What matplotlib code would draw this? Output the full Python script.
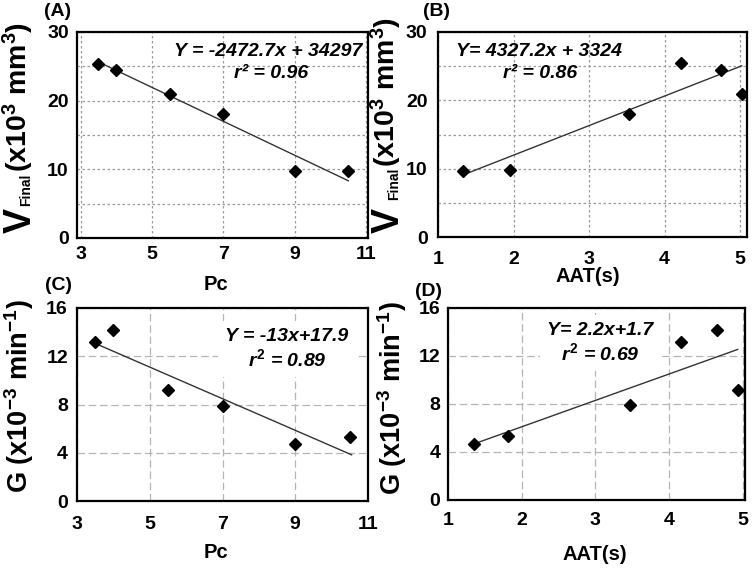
import matplotlib
matplotlib.use('Agg')
import matplotlib.pyplot as plt
from matplotlib.transforms import IdentityTransform
import numpy as np

plt.rcParams['font.family'] = ['Liberation Sans', 'DejaVu Sans']
plt.rcParams['font.weight'] = 'bold'
plt.rcParams['mathtext.fontset'] = 'custom'
plt.rcParams['mathtext.rm'] = 'Liberation Sans:bold'
plt.rcParams['mathtext.it'] = 'Liberation Sans:italic:bold'
plt.rcParams['mathtext.bf'] = 'Liberation Sans:bold'
plt.rcParams['mathtext.sf'] = 'Liberation Sans:bold'

# ---------------- data ----------------
pc_values = [3.5, 4.0, 5.5, 7.0, 9.0, 10.5]
v_final_a = [25.4, 24.5, 21.0, 18.0, 9.7, 9.7]          # x10^3 mm^3
aat_b = [4.21, 4.74, 5.02, 3.53, 1.33, 1.95]
v_final_b = [25.4, 24.5, 21.0, 18.0, 9.7, 9.8]
g_values = [13.2, 14.2, 9.2, 7.9, 4.7, 5.3]             # x10^-3 min^-1
aat_d = [4.16, 4.65, 4.93, 3.47, 1.35, 1.81]

fit_a = (-2.4727, 34.297); fit_a_range = [3.5, 10.5]
fit_b = (4.3272, 3.324);   fit_b_range = [1.40, 5.02]
fit_c = (-1.31, 17.65);    fit_c_range = [3.5, 10.55]
fit_d = (2.2, 1.7);        fit_d_range = [1.37, 4.93]

eq_a = ["Y = -2472.7x + 34297", "r\u00b2 = 0.96"]
eq_b = ["Y= 4327.2x + 3324", "r\u00b2 = 0.86"]
eq_c = ["Y = -13x+17.9", r"$r^2$ = 0.89"]
eq_d = ["Y= 2.2x+1.7", r"$r^2$ = 0.69"]

pc_ticks = [3, 5, 7, 9, 11]
aat_ticks = [1, 2, 3, 4, 5]
v_ticks = [0, 10, 20, 30]
v_minor = [5, 15, 25]
g_ticks = [0, 4, 8, 12, 16]

W, H = 755, 569
fig = plt.figure(figsize=(W / 100, H / 100), dpi=100)
ID = IdentityTransform()


def rect(l, t, r, b):
    return [l / W, (H - b) / H, (r - l) / W, (b - t) / H]


def ftext(x, y, s, **kw):
    return fig.text(x, H - y, s, transform=ID, **kw)


def style_axes(ax, xlim, ylim, xt, yt, ymin, grid_ls, grid_color, xpad, ypad):
    ax.set_xlim(*xlim)
    ax.set_ylim(*ylim)
    ax.set_xticks(xt)
    ax.set_yticks(yt)
    if ymin:
        ax.set_yticks(ymin, minor=True)
    ax.tick_params(axis='both', which='both', length=0, labelsize=14)
    ax.tick_params(axis='x', pad=xpad)
    ax.tick_params(axis='y', pad=ypad)
    for lab in ax.get_xticklabels() + ax.get_yticklabels():
        lab.set_fontweight('bold')
    ax.grid(True, which='both', color=grid_color, linestyle=grid_ls, linewidth=0.9)
    ax.set_axisbelow(True)
    for sp in ax.spines.values():
        sp.set_linewidth(1.6)
        sp.set_color('black')


def scatter_fit(ax, x, y, fit, frange):
    fx = np.array(frange)
    ax.plot(fx, fit[0] * fx + fit[1], color='#333333', linewidth=1.0, zorder=3)
    ax.plot(x, y, linestyle='none', marker='D', markersize=6.3,
            color='black', zorder=4)


# ---------------- Panel A ----------------
axA = fig.add_axes(rect(77, 32, 368, 238))
style_axes(axA, (2.9, 11.05), (0, 30), pc_ticks, v_ticks, v_minor,
           (0, (2, 2)), '#9a9a9a', 5.5, 6)
scatter_fit(axA, pc_values, v_final_a, fit_a, fit_a_range)
ftext(362, 51, eq_a[0], ha='right', va='center', fontsize=14, style='italic', fontweight='bold')
ftext(271, 73, eq_a[1], ha='center', va='center', fontsize=14, style='italic', fontweight='bold')

# ---------------- Panel B ----------------
axB = fig.add_axes(rect(438, 32, 747, 237))
style_axes(axB, (1.0, 5.09), (0, 30), aat_ticks, v_ticks, v_minor,
           (0, (2, 2)), '#9a9a9a', 10, 7.5)
scatter_fit(axB, aat_b, v_final_b, fit_b, fit_b_range)
ftext(456, 52, eq_b[0], ha='left', va='center', fontsize=14, style='italic', fontweight='bold')
ftext(540, 73, eq_b[1], ha='center', va='center', fontsize=14, style='italic', fontweight='bold')

# ---------------- Panel C ----------------
axC = fig.add_axes(rect(77, 308, 368, 501))
style_axes(axC, (3.0, 11.0), (0, 16), pc_ticks, g_ticks, None,
           (0, (6, 3)), '#b5b5b5', 10.5, 6.5)
scatter_fit(axC, pc_values, g_values, fit_c, fit_c_range)
ftext(287, 349, eq_c[0] + "\n" + eq_c[1], ha='center', va='center', fontsize=14,
      style='italic', fontweight='bold', linespacing=1.2,
      bbox=dict(facecolor='white', edgecolor='none', pad=5))

# ---------------- Panel D ----------------
axD = fig.add_axes(rect(448, 308, 745, 500))
style_axes(axD, (1.0, 5.03), (0, 16), aat_ticks, g_ticks, None,
           (0, (6, 3)), '#b5b5b5', 8.5, 5.5)
scatter_fit(axD, aat_d, g_values, fit_d, fit_d_range)
ftext(600, 343, eq_d[0] + "\n" + eq_d[1], ha='center', va='center', fontsize=14,
      style='italic', fontweight='bold', linespacing=1.15,
      bbox=dict(facecolor='white', edgecolor='none', pad=5))

# ---------------- axis titles ----------------
for (x, y, s) in [(216, 284, 'Pc'), (588, 277, 'AAT(s)'), (216, 553, 'Pc'), (595, 555, 'AAT(s)')]:
    ftext(x, y, s, ha='center', va='center', fontsize=14.5, fontweight='bold')

for (x, y, s) in [(58, 11, '(A)'), (436, 11, '(B)'), (58, 285, '(C)'), (428, 292, '(D)')]:
    ftext(x, y, s, ha='center', va='center', fontsize=14, fontweight='bold')

# V_Final labels (A and B)
for base_x, v_start, fin_start, rest_start in [(31, 233, 206, 172), (399, 233, 200, 167)]:
    kw = dict(rotation=90, rotation_mode='anchor', ha='left', va='baseline', fontweight='bold')
    ftext(base_x, v_start, 'V', fontsize=27, **kw)
    ftext(base_x - 1, fin_start, 'Final', fontsize=10, **kw)
    ftext(base_x - 4, rest_start, r'(x10$^3$ mm$^3$)', fontsize=20.5, **kw)

# G labels (C and D)
ftext(19, 396, r'G (x10$^{-3}$ min$^{-1}$)', rotation=90, ha='center', va='center',
      fontsize=19.5, fontweight='bold')
ftext(392, 398, r'G (x10$^{-3}$ min$^{-1}$)', rotation=90, ha='center', va='center',
      fontsize=19.5, fontweight='bold')

fig.savefig('out.png', dpi=100)
